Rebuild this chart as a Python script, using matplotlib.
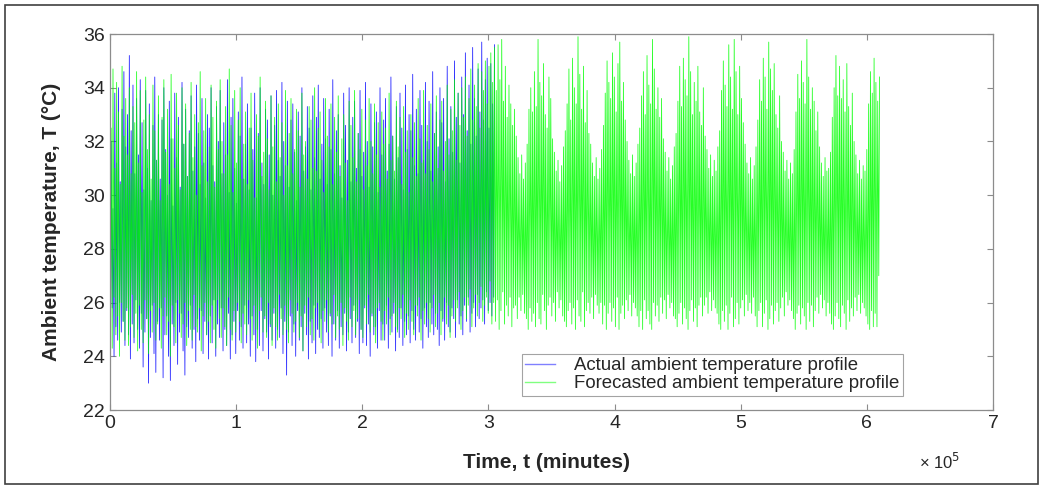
import numpy as np
import matplotlib
matplotlib.use("Agg")
from matplotlib import pyplot as plt
from matplotlib.patches import Rectangle
from matplotlib.lines import Line2D
from matplotlib.ticker import FuncFormatter

plt.rcParams['font.family'] = ['Liberation Sans', 'DejaVu Sans']

# daily peaks / troughs (deg C), one value per day
actual_max = [
    32.0, 29.5, 33.8, 31.2, 34.0, 30.5, 33.2, 34.6, 31.8, 33.0, 35.2, 32.4, 34.1, 30.8, 33.6,
    31.5, 34.3, 32.7, 30.2, 33.9, 31.0, 33.4, 29.8, 32.6, 34.4, 31.3, 33.0, 30.6, 32.8, 34.0,
    31.7, 30.0, 33.5, 32.1, 29.6, 33.8, 31.4, 32.9, 30.3, 34.2, 31.9, 33.2, 30.7, 32.4, 33.7,
    30.9, 31.8, 34.1, 32.3, 30.4, 33.6, 31.2, 29.9, 33.0, 32.5, 34.0, 31.1, 30.5, 33.3, 32.0,
    33.9, 30.8, 32.7, 31.5, 34.3, 30.1, 32.9, 33.6, 31.0, 29.7, 33.1, 32.2, 34.4, 30.6, 31.9,
    33.4, 30.2, 32.5, 31.7, 33.8, 29.9, 32.3, 34.0, 31.2, 30.4, 33.2, 32.8, 31.5, 33.7, 30.0,
    32.6, 33.9, 31.3, 30.7, 34.2, 32.0, 31.1, 33.5, 30.3, 32.8, 33.4, 31.6, 29.8, 33.1, 32.2,
    34.0, 30.9, 31.8, 33.3, 32.5, 30.2, 33.7, 31.4, 32.9, 34.1, 30.6, 31.9, 33.6, 32.1, 30.4,
    33.2, 31.7, 34.3, 30.8, 32.4, 33.0, 31.1, 29.9, 33.8, 32.6, 31.3, 34.0, 30.5, 32.9, 33.5,
    31.0, 32.3, 33.9, 30.7, 31.6, 34.2, 32.0, 30.3, 33.4, 31.8, 32.7, 33.1, 30.1, 34.0, 31.5,
    32.8, 33.6, 30.9, 31.9, 34.4, 32.2, 30.6, 33.3, 31.4, 33.8, 32.5, 30.2, 34.1, 31.7, 33.0,
    32.4, 34.5, 31.1, 33.2, 30.8, 33.9, 32.6, 31.3, 34.2, 32.0, 33.5, 30.9, 34.6, 32.3, 33.1,
    31.8, 34.0, 32.7, 33.6, 30.5, 34.8, 32.1, 33.3, 31.6, 35.0, 32.9, 33.8, 31.2, 34.4, 33.0,
    35.3, 32.4, 34.1, 31.9, 35.5, 33.6, 32.2, 34.7, 33.1, 35.7, 32.8, 34.3, 35.1, 32.5, 34.9,
    33.4, 35.6,
]
actual_min = [
    24.2, 25.8, 24.0, 25.1, 24.6, 26.0, 24.9, 25.3, 24.4, 25.7, 24.8, 23.9, 25.2, 24.5, 26.1,
    25.0, 24.3, 25.6, 23.6, 24.9, 25.4, 23.0, 24.7, 25.9, 24.1, 23.4, 25.3, 24.6, 25.8, 23.2,
    24.8, 25.5, 24.0, 23.1, 25.2, 24.4, 26.0, 23.7, 24.9, 25.6, 24.2, 23.3, 25.1, 24.7, 25.9,
    24.3, 25.0, 23.8, 25.4, 24.6, 25.7, 24.1, 25.3, 24.8, 23.9, 25.5, 24.5, 26.1, 24.0, 25.2,
    24.7, 25.8, 24.2, 25.0, 24.4, 25.6, 23.9, 24.8, 25.3, 24.1, 25.7, 24.6, 25.1, 24.3, 25.9,
    24.5, 25.2, 24.0, 25.5, 24.8, 23.8, 25.0, 24.4, 25.7, 24.2, 25.4, 24.9, 23.9, 25.1, 24.6,
    25.6, 24.3, 25.0, 24.7, 25.8, 24.1, 25.3, 23.3, 24.9, 25.5, 24.4, 25.2, 24.0, 25.7, 24.6,
    25.1, 24.2, 25.6, 24.8, 23.9, 25.3, 24.5, 25.9, 24.1, 25.0, 24.7, 25.4, 24.3, 25.8, 24.9,
    24.4, 25.5, 24.0, 25.2, 24.6, 25.7, 24.3, 25.1, 24.8, 25.6, 24.2, 24.9, 25.4, 24.5, 25.9,
    24.7, 25.3, 24.1, 25.0, 24.5, 25.8, 24.4, 25.2, 24.0, 25.5, 24.8, 25.1, 24.3, 25.7, 24.6,
    25.2, 24.6, 25.9, 24.3, 25.4, 24.9, 25.6, 24.2, 25.0, 24.7, 25.8, 24.4, 25.3, 24.8, 25.5,
    24.5, 25.7, 25.0, 24.6, 25.9, 24.9, 25.4, 24.3, 25.8, 25.1, 24.7, 26.0, 25.2, 24.8, 25.6,
    25.0, 24.4, 25.7, 25.3, 24.6, 26.0, 25.1, 24.9, 25.8, 25.4, 24.7, 26.1, 25.2, 25.5, 24.8,
    25.9, 25.3, 26.2, 24.9, 25.6, 26.0, 25.1, 26.3, 25.4, 25.8, 26.1, 25.2, 26.4, 25.7, 26.0,
    25.5, 26.2,
]

forecast_max = [
    # first 212 days (overlaps the measured period)
    32.5, 34.7, 31.0, 34.2, 33.1, 30.4, 34.8, 32.2, 33.6, 31.5, 34.0, 30.8, 33.3, 32.7, 34.6,
    31.2, 33.9, 30.1, 32.8, 34.4, 31.7, 33.0, 30.6, 34.1, 32.4, 31.3, 33.7, 29.8, 32.9, 34.3,
    31.6, 33.2, 30.4, 34.5, 32.1, 31.0, 33.8, 32.6, 30.2, 34.0, 31.9, 33.4, 30.7, 32.3, 34.2,
    31.4, 33.0, 30.0, 32.7, 34.6, 31.1, 32.4, 33.6, 30.5, 31.8, 34.1, 32.9, 30.3, 33.5, 31.7,
    34.3, 32.0, 30.8, 33.3, 31.5, 34.7, 32.6, 30.1, 33.9, 31.2, 32.8, 34.0, 30.6, 31.9, 33.1,
    30.4, 32.5, 33.8, 31.3, 29.9, 33.0, 32.2, 34.4, 30.7, 31.6, 33.5, 32.1, 30.2, 33.7, 31.8,
    32.9, 30.5, 33.4, 31.4, 32.7, 30.0, 33.9, 31.1, 32.3, 33.6, 30.8, 31.7, 33.2, 32.4, 30.3,
    33.8, 31.5, 32.0, 30.6, 33.3, 32.8, 31.0, 34.0, 30.9, 32.5, 33.1, 31.3, 30.1, 33.6, 32.2,
    31.8, 33.4, 30.4, 32.9, 31.6, 33.7, 30.7, 32.1, 33.0, 31.2, 29.8, 33.5, 32.6, 31.4, 33.9,
    30.5, 32.3, 31.7, 33.2, 30.2, 32.8, 31.1, 33.6, 32.0, 30.8, 33.4, 31.5, 32.7, 30.3, 33.1,
    31.9, 32.5, 30.6, 33.8, 31.3, 32.2, 30.9, 33.5, 31.8, 32.9, 30.4, 33.3, 31.6, 32.4, 30.1,
    33.0, 31.4, 32.7, 30.7, 33.6, 32.1, 31.2, 33.9, 30.8, 32.6, 31.7, 33.4, 30.5, 32.3, 33.7,
    31.0, 32.8, 33.5, 30.9, 32.0, 34.1, 31.5, 33.2, 32.4, 34.3, 31.3, 33.8, 32.6, 34.0, 32.9,
    34.4, 32.2, 33.6, 34.7, 32.8, 34.1, 33.3, 34.9, 32.5, 34.6, 33.9, 35.0, 33.4, 34.8, 35.3,
    34.2, 35.5,
    # next 212 days (forecast only)
    33.9, 35.6, 34.3, 35.8, 33.5, 34.8, 32.9, 34.1, 33.4, 32.6, 33.2, 32.2, 31.4, 30.8, 31.5,
    30.6, 31.2, 31.9, 33.2, 34.0, 33.1,
    34.6, 33.3, 35.8, 34.2, 33.7, 34.9, 33.0, 32.5, 34.4, 33.6, 32.1, 31.6, 30.9, 31.3, 30.5,
    31.1, 31.8, 32.4, 33.4, 34.7, 32.8,
    35.1, 34.0, 33.4, 35.9, 34.5, 33.2, 34.8, 32.7, 33.9, 32.3, 31.9, 31.2, 30.7, 31.4, 30.6,
    31.0, 31.7, 32.6, 33.8, 35.0, 34.2,
    33.6, 35.3, 34.4, 33.1, 34.9, 35.7, 33.5, 34.2, 32.8, 32.0, 31.3, 30.8, 31.5, 30.7, 31.2,
    31.9, 32.5, 33.7, 34.6, 33.0, 35.2,
    34.1, 33.4, 35.8, 34.7, 33.2, 34.0, 32.9, 33.6, 32.1, 31.6, 30.9, 31.4, 30.6, 31.1, 31.8,
    32.3, 33.5, 34.8, 33.3, 35.1, 34.3,
    33.7, 35.9, 34.6, 33.0, 34.2, 33.5, 34.8, 33.1, 32.6, 34.0, 32.2, 31.7, 31.0, 31.5, 30.7,
    31.3, 30.9, 31.8, 32.4, 33.9, 35.0,
    34.1, 33.3, 35.6, 34.4, 33.2, 35.8, 34.6, 33.0, 34.8, 33.6, 32.7, 31.9, 31.2, 30.8, 31.4,
    30.6, 31.1, 31.8, 32.8, 34.3, 33.5,
    35.1, 34.4, 33.2, 35.7, 34.7, 33.9, 34.9, 33.0, 32.5, 33.7, 32.0, 31.6, 30.9, 31.3, 30.6,
    31.2, 30.8, 31.7, 33.1, 34.5, 33.6,
    35.0, 34.2, 33.4, 35.8, 34.4, 33.2, 34.0, 33.5, 32.4, 33.1, 31.8, 31.2, 30.7, 31.4, 30.9,
    31.0, 31.6, 32.9, 34.0, 35.2, 33.7,
    34.8, 33.6, 34.3, 33.1, 34.9, 33.3, 32.6, 33.8, 32.0, 31.5, 30.8, 31.3, 30.6, 31.1, 30.9,
    31.7, 33.4, 34.6, 33.8, 35.1, 34.2,
    33.5, 34.4,
]
forecast_min = [
    25.0, 24.3, 26.2, 24.8, 25.5, 24.0, 26.0, 25.3, 24.6, 25.8, 24.4, 25.1, 26.3, 24.7, 25.6,
    24.2, 25.9, 25.0, 24.5, 26.1, 25.4, 24.1, 25.7, 24.9, 26.0, 24.6, 25.2, 25.8, 24.3, 25.5,
    26.2, 24.8, 25.3, 24.0, 25.9, 25.1, 24.5, 26.1, 25.6, 24.7, 25.2, 26.0, 24.4, 25.7, 25.0,
    24.6, 26.3, 25.1, 24.9, 25.8, 24.2, 25.5, 26.0, 24.8, 25.3, 24.5, 25.9, 25.0, 24.3, 26.1,
    25.4, 24.7, 25.8, 25.1, 24.4, 26.2, 25.0, 24.6, 25.7, 24.9, 26.0, 25.3, 24.5, 25.6, 25.2,
    24.8, 26.1, 25.4, 24.6, 25.9, 25.0, 24.3, 25.7, 26.2, 24.9, 25.5, 24.7, 26.0, 25.2, 24.4,
    25.8, 25.1, 24.6, 26.3, 25.4, 24.8, 25.9, 25.0, 24.5, 26.1, 25.6, 24.9, 25.3, 26.0, 24.7,
    25.5, 24.2, 25.9, 25.1, 26.2, 24.8, 25.4, 24.6, 25.8, 26.0, 25.0, 24.5, 25.7, 25.3, 26.1,
    24.9, 25.6, 25.2, 26.3, 24.7, 25.5, 25.0, 26.0, 24.4, 25.8, 25.3, 24.6, 26.2, 25.1, 25.7,
    24.8, 25.4, 26.1, 25.0, 24.7, 25.9, 25.2, 26.3, 24.9, 25.6, 25.1, 24.5, 25.8, 26.0, 25.3,
    24.6, 25.7, 25.2, 26.2, 24.8, 25.5, 26.0, 25.1, 24.9, 25.8, 25.4, 26.3, 24.7, 25.6, 25.0,
    26.1, 25.3, 24.8, 25.9, 25.5, 26.2, 24.6, 25.7, 25.2, 26.0, 25.4, 24.9, 25.8, 26.3, 25.1,
    25.6, 26.0, 24.8, 25.4, 26.2, 25.2, 25.9, 24.7, 25.5, 26.1, 25.3, 25.8, 26.4, 25.0, 25.7,
    26.2, 25.4, 25.9, 26.5, 25.1, 25.8, 26.3, 25.5, 26.0, 26.6, 25.3, 25.9, 26.2, 25.6, 26.8,
    25.2, 26.0,
    25.3, 26.1, 25.0, 25.7, 26.4, 25.2, 25.9, 25.5, 26.2, 25.1, 25.8, 25.9, 25.4, 26.2, 25.7,
    26.3, 25.6, 25.4, 25.0, 25.8, 25.3,
    25.6, 25.1, 26.0, 25.4, 25.2, 26.3, 25.7, 25.0, 25.9, 26.2, 25.5, 26.0, 25.3, 26.4, 25.8,
    26.1, 25.5, 25.3, 25.1, 25.7, 26.0,
    25.2, 25.8, 25.0, 26.1, 25.5, 25.3, 26.4, 25.1, 25.7, 26.0, 25.6, 26.2, 25.4, 26.3, 25.9,
    25.6, 26.0, 25.2, 25.9, 25.0, 25.6,
    26.0, 25.3, 25.8, 25.1, 26.2, 25.0, 25.6, 25.9, 25.4, 26.1, 25.7, 26.3, 25.5, 26.0, 25.8,
    25.5, 25.1, 25.7, 25.0, 26.1, 25.4,
    25.7, 25.2, 25.0, 26.0, 25.5, 25.9, 25.3, 26.2, 25.6, 26.1, 25.4, 26.3, 25.8, 26.0, 25.5,
    25.4, 25.1, 25.6, 26.0, 25.2, 25.8,
    25.4, 25.0, 25.7, 26.1, 25.3, 25.8, 25.1, 25.9, 26.2, 25.5, 25.9, 26.2, 25.6, 26.4, 25.7,
    26.1, 25.8, 25.6, 25.2, 25.0, 25.7,
    25.3, 25.9, 25.0, 25.6, 26.2, 25.1, 25.4, 26.0, 25.2, 25.8, 26.1, 25.5, 26.3, 25.7, 26.0,
    25.6, 26.2, 25.5, 25.1, 25.7, 26.0,
    25.1, 25.6, 26.1, 25.0, 25.4, 25.9, 25.2, 25.7, 26.0, 25.3, 25.8, 26.2, 25.5, 26.4, 25.9,
    26.1, 25.7, 25.4, 25.0, 25.6, 25.9,
    25.2, 25.8, 25.5, 25.0, 26.0, 25.3, 25.9, 25.1, 25.7, 26.2, 25.6, 26.3, 25.8, 26.1, 25.5,
    26.0, 25.6, 25.2, 25.0, 25.5, 26.0,
    25.4, 25.1, 25.9, 25.6, 25.0, 26.1, 25.3, 25.8, 25.5, 26.2, 25.7, 26.3, 25.6, 26.0, 25.8,
    25.5, 25.2, 25.0, 25.7, 25.1, 25.6,
    25.1, 27.0,
]

MIN_PER_DAY = 1440


def daily_series(mins, maxs):
    # trough early morning, peak in the afternoon
    d = np.arange(len(mins)) * MIN_PER_DAY
    t = np.column_stack([d + 300, d + 900]).ravel()
    v = np.column_stack([mins, maxs]).ravel()
    return t, v


t_act, T_act = daily_series(actual_min, actual_max)
t_fc, T_fc = daily_series(forecast_min, forecast_max)

fig = plt.figure(figsize=(10.43, 4.88), dpi=100)
ax = fig.add_axes([0.1055, 0.1598, 0.8466, 0.7705])

ax.plot(t_act, T_act, color='#0000ff', lw=0.6, alpha=0.85)
ax.plot(t_fc, T_fc, color='#00ff00', lw=0.6, alpha=0.85)

ax.set_xlim(0, 7e5)
ax.set_ylim(22, 36)
ax.set_xticks(np.arange(0, 8) * 1e5)
ax.set_yticks(np.arange(22, 37, 2))
ax.xaxis.set_major_formatter(FuncFormatter(lambda v, p: f'{v / 1e5:.0f}'))
ax.tick_params(direction='in', top=True, right=True, length=4, width=0.8,
               colors='#8c8c8c', labelcolor='#262626', labelsize=14)
for s in ax.spines.values():
    s.set_color('#8c8c8c')
    s.set_linewidth(0.9)

ax.set_xlabel('Time, t (minutes)', fontsize=15, fontweight='bold', color='#262626')
ax.set_ylabel('Ambient temperature, T (°C)', fontsize=15, fontweight='bold', color='#262626')
ax.xaxis.set_label_coords(0.494, -0.113)
ax.yaxis.set_label_coords(-0.056, 0.5)
ax.text(0.94, -0.138, r'× 10$^5$', transform=ax.transAxes, fontsize=12,
        color='#262626', ha='center', va='center')

handles = [Line2D([], [], color='#8080ff', lw=1.0),
           Line2D([], [], color='#80ff80', lw=1.0)]
labels = ['Actual ambient temperature profile', 'Forecasted ambient temperature profile']
leg = ax.legend(handles, labels, loc='lower right', bbox_to_anchor=(0.898, 0.037),
                fontsize=13.4, frameon=True, fancybox=False, handlelength=1.6,
                borderpad=0.2, labelspacing=0.05, handletextpad=1.0, borderaxespad=0)
leg.get_frame().set_edgecolor('#8c8c8c')
leg.get_frame().set_linewidth(0.8)
for t in leg.get_texts():
    t.set_color('#262626')

# outer frame round the whole figure
fig.patches.append(Rectangle((0.005, 0.008), 0.99, 0.982, transform=fig.transFigure,
                             fill=False, edgecolor='#404040', lw=1.2))

fig.savefig('out.png', dpi=100)
